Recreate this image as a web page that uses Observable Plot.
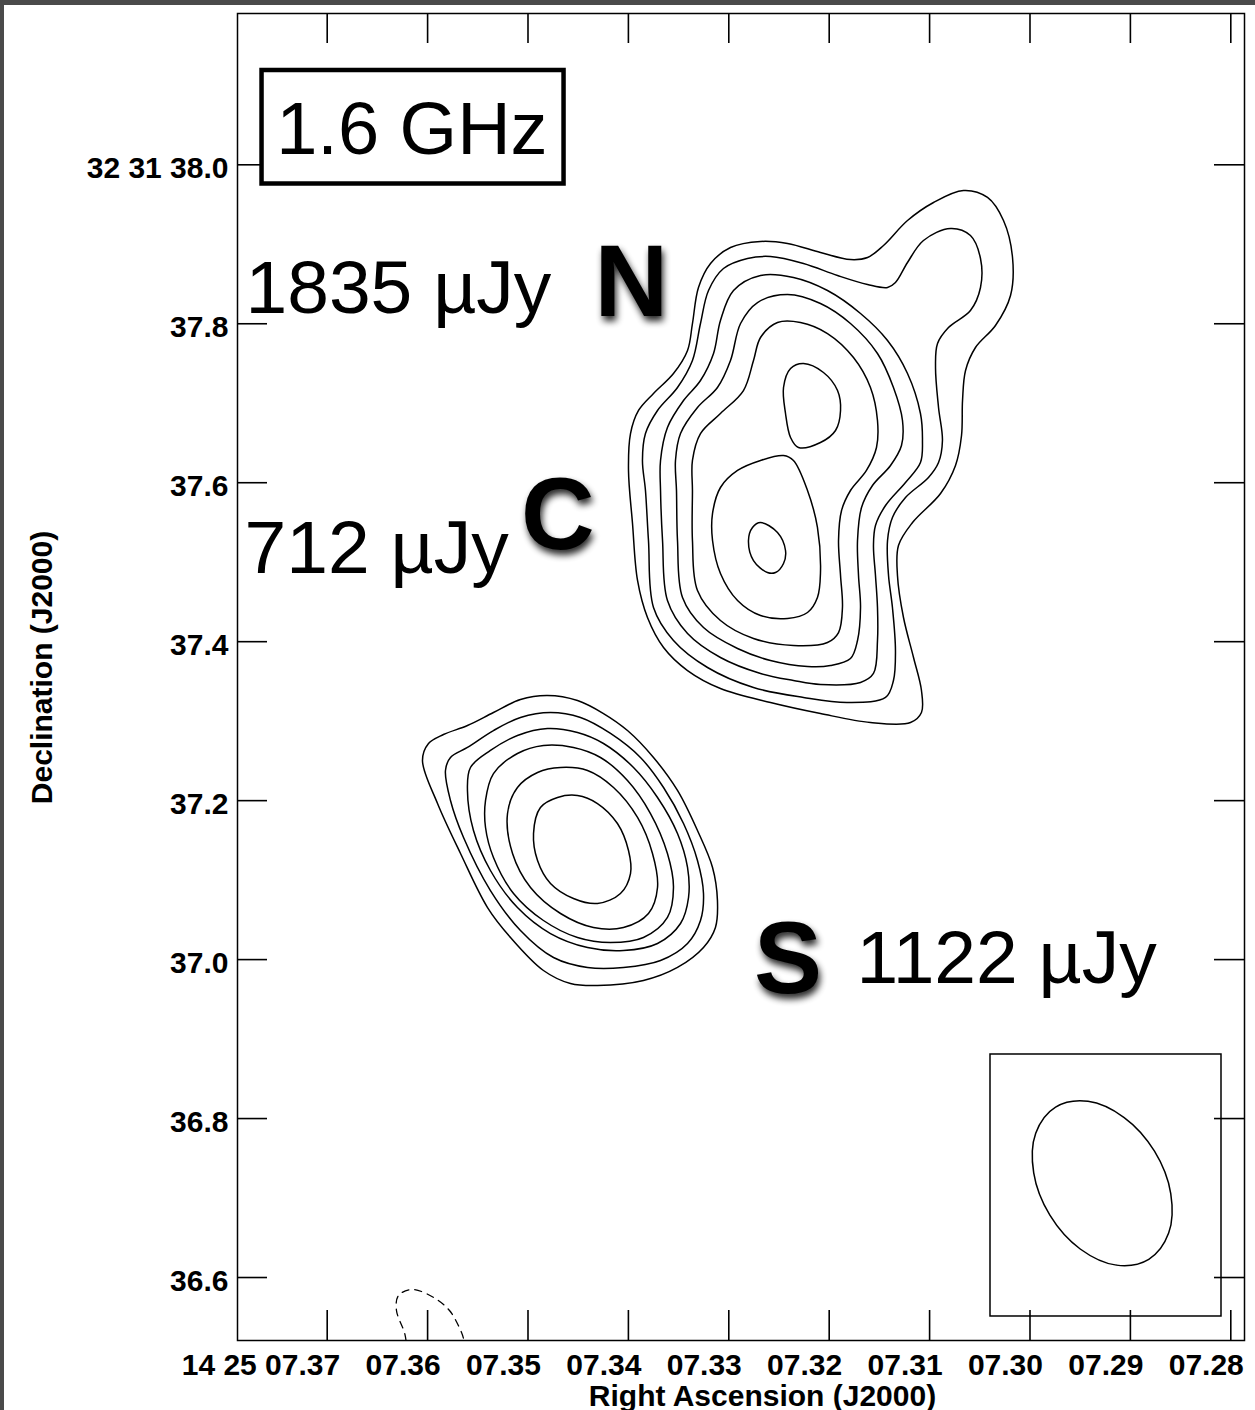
<!DOCTYPE html>
<html>
<head>
<meta charset="utf-8">
<script src="https://cdn.jsdelivr.net/npm/d3@7"></script>
<script src="https://cdn.jsdelivr.net/npm/@observablehq/plot@0.6"></script>
<style>
  html, body { margin: 0; padding: 0; background: #fff; }
  #page { position: relative; width: 1255px; height: 1410px; overflow: hidden; background: #fff; }
  #page svg { position: absolute; left: 0; top: 0; }
  .edge { position: absolute; background: #4a4a4a; }
</style>
</head>
<body>
<div id="page"></div>
<script>
// ---- Axis ticks (RA in seconds of time past 14h25m, Dec in arcsec past +32°31') ----
const xTicks = [7.37, 7.36, 7.35, 7.34, 7.33, 7.32, 7.31, 7.30, 7.29, 7.28];
const xTickLabels = ["14 25 07.37", "07.36", "07.35", "07.34", "07.33", "07.32", "07.31", "07.30", "07.29", "07.28"];
const yTicks = [38.0, 37.8, 37.6, 37.4, 37.2, 37.0, 36.8, 36.6];
const yTickLabels = ["32 31 38.0", "37.8", "37.6", "37.4", "37.2", "37.0", "36.8", "36.6"];

// ---- Text ----
const bandLabel = "1.6 GHz";
const fluxLabels = ["1835 µJy", "712 µJy", "1122 µJy"];
const componentNames = ["N", "C", "S"];
const xTitle = "Right Ascension (J2000)";
const yTitle = "Declination (J2000)";

// ---- Contours: [RA s, Dec arcsec] vertices ----
// northern complex (N + C), outermost to innermost
const northLevel1 = [[7.30662,37.9677],[7.30423,37.9589],[7.30264,37.9299],[7.30174,37.8834],[7.30194,37.8356],[7.30344,37.7978],[7.30543,37.7701],[7.30642,37.7412],[7.30672,37.7034],[7.30682,37.6594],[7.30742,37.6217],[7.30891,37.5864],[7.31170,37.5499],[7.31310,37.5210],[7.31320,37.4833],[7.31260,37.4304],[7.31160,37.3801],[7.31081,37.3386],[7.31081,37.3109],[7.31190,37.2983],[7.31589,37.2983],[7.32087,37.3096],[7.32585,37.3235],[7.33083,37.3411],[7.33411,37.3637],[7.33650,37.3927],[7.33810,37.4304],[7.33909,37.4770],[7.33959,37.5487],[7.33999,37.6154],[7.33979,37.6619],[7.33899,37.6909],[7.33750,37.7123],[7.33551,37.7374],[7.33411,37.7664],[7.33362,37.8003],[7.33302,37.8456],[7.33182,37.8758],[7.32983,37.8959],[7.32684,37.9035],[7.32415,37.9010],[7.32087,37.8897],[7.31788,37.8808],[7.31618,37.8834],[7.31459,37.8985],[7.31220,37.9299],[7.30961,37.9526]];
const northLevel2 = [[7.30792,37.9199],[7.30593,37.9110],[7.30493,37.8821],[7.30493,37.8456],[7.30593,37.8167],[7.30812,37.7953],[7.30921,37.7752],[7.30941,37.7450],[7.30911,37.6946],[7.30872,37.6531],[7.30911,37.6254],[7.31011,37.6066],[7.31240,37.5814],[7.31370,37.5562],[7.31419,37.5273],[7.31409,37.4833],[7.31370,37.4430],[7.31340,37.3889],[7.31360,37.3512],[7.31439,37.3298],[7.31818,37.3235],[7.32256,37.3298],[7.32754,37.3423],[7.33212,37.3675],[7.33551,37.4015],[7.33750,37.4430],[7.33800,37.5273],[7.33830,37.5902],[7.33860,37.6280],[7.33830,37.6619],[7.33710,37.6909],[7.33511,37.7198],[7.33362,37.7538],[7.33282,37.8003],[7.33202,37.8418],[7.33053,37.8695],[7.32814,37.8821],[7.32585,37.8846],[7.32256,37.8758],[7.31917,37.8607],[7.31618,37.8494],[7.31419,37.8456],[7.31340,37.8519],[7.31220,37.8771],[7.31061,37.9048]];
const northLevel3 = [[7.32684,37.8607],[7.32356,37.8582],[7.32017,37.8418],[7.31688,37.8129],[7.31419,37.7789],[7.31220,37.7374],[7.31091,37.6871],[7.31071,37.6531],[7.31091,37.6254],[7.31240,37.6003],[7.31439,37.5713],[7.31539,37.5462],[7.31559,37.5210],[7.31539,37.4833],[7.31519,37.4430],[7.31519,37.4015],[7.31559,37.3600],[7.31688,37.3487],[7.32087,37.3461],[7.32356,37.3512],[7.32684,37.3600],[7.33083,37.3801],[7.33411,37.4103],[7.33611,37.4518],[7.33660,37.5273],[7.33680,37.5902],[7.33680,37.6280],[7.33611,37.6695],[7.33451,37.7034],[7.33282,37.7286],[7.33152,37.7626],[7.33083,37.8041],[7.32953,37.8418]];
const northLevel4 = [[7.32415,37.8368],[7.32087,37.8255],[7.31788,37.8003],[7.31519,37.7626],[7.31360,37.7198],[7.31270,37.6783],[7.31280,37.6468],[7.31389,37.6217],[7.31569,37.5965],[7.31678,37.5688],[7.31718,37.5273],[7.31708,37.4833],[7.31688,37.4430],[7.31718,37.4015],[7.31788,37.3788],[7.31987,37.3700],[7.32216,37.3688],[7.32585,37.3763],[7.32913,37.3914],[7.33252,37.4178],[7.33461,37.4556],[7.33511,37.5273],[7.33521,37.5902],[7.33531,37.6280],[7.33481,37.6619],[7.33312,37.6946],[7.33113,37.7198],[7.32983,37.7538],[7.32883,37.8003],[7.32714,37.8267]];
const northLevel5 = [[7.32515,37.8016],[7.32286,37.8016],[7.32017,37.7877],[7.31758,37.7575],[7.31589,37.7198],[7.31519,37.6783],[7.31529,37.6443],[7.31629,37.6154],[7.31788,37.5902],[7.31877,37.5650],[7.31907,37.5273],[7.31887,37.4833],[7.31868,37.4430],[7.31907,37.4115],[7.32017,37.3990],[7.32356,37.3952],[7.32754,37.4040],[7.33083,37.4266],[7.33312,37.4644],[7.33362,37.5273],[7.33362,37.5902],[7.33362,37.6280],[7.33282,37.6619],[7.33083,37.6871],[7.32854,37.7160],[7.32754,37.7538],[7.32684,37.7827]];
const centralLevel6 = [[7.32455,37.6342],[7.32356,37.6280],[7.32216,37.5902],[7.32117,37.5437],[7.32087,37.4858],[7.32117,37.4556],[7.32216,37.4367],[7.32415,37.4292],[7.32684,37.4329],[7.32913,37.4518],[7.33083,37.4858],[7.33162,37.5273],[7.33162,37.5613],[7.33083,37.5940],[7.32913,37.6154],[7.32684,37.6280]];
const northLevel6 = [[7.32256,37.7500],[7.32057,37.7387],[7.31917,37.7160],[7.31887,37.6909],[7.31937,37.6657],[7.32087,37.6506],[7.32306,37.6443],[7.32385,37.6569],[7.32435,37.6871],[7.32455,37.7198],[7.32385,37.7437]];
const centralLevel7 = [[7.32684,37.5499],[7.32515,37.5374],[7.32435,37.5147],[7.32455,37.4984],[7.32535,37.4870],[7.32615,37.4870],[7.32754,37.5021],[7.32804,37.5273],[7.32764,37.5437]];

// southern component S, outermost to innermost
const southLevel1 = [[7.36051,37.2505],[7.35991,37.2719],[7.35842,37.2832],[7.35603,37.2945],[7.35344,37.3109],[7.35075,37.3273],[7.34806,37.3323],[7.34507,37.3260],[7.34248,37.3096],[7.34009,37.2882],[7.33750,37.2543],[7.33511,37.2128],[7.33312,37.1624],[7.33162,37.1159],[7.33113,37.0744],[7.33133,37.0404],[7.33252,37.0152],[7.33511,36.9901],[7.33850,36.9737],[7.34308,36.9674],[7.34577,36.9699],[7.34846,36.9863],[7.35174,37.0278],[7.35403,37.0655],[7.35672,37.1335],[7.35901,37.1964]];
const southLevel2 = [[7.35772,37.2002],[7.35822,37.2379],[7.35772,37.2543],[7.35603,37.2669],[7.35344,37.2882],[7.35075,37.3046],[7.34776,37.3109],[7.34477,37.3046],[7.34178,37.2845],[7.33880,37.2543],[7.33650,37.2165],[7.33451,37.1712],[7.33312,37.1247],[7.33252,37.0832],[7.33282,37.0492],[7.33411,37.0203],[7.33680,36.9989],[7.34049,36.9901],[7.34407,36.9901],[7.34746,37.0026],[7.35075,37.0366],[7.35374,37.0869],[7.35642,37.1536]];
const southLevel3 = [[7.35603,37.2128],[7.35573,37.2417],[7.35374,37.2631],[7.35105,37.2820],[7.34806,37.2908],[7.34507,37.2857],[7.34248,37.2719],[7.33949,37.2417],[7.33710,37.2040],[7.33511,37.1587],[7.33411,37.1159],[7.33401,37.0781],[7.33481,37.0454],[7.33710,37.0203],[7.34049,37.0114],[7.34407,37.0152],[7.34776,37.0328],[7.35105,37.0655],[7.35374,37.1121],[7.35543,37.1624]];
const southLevel4 = [[7.35423,37.2002],[7.35344,37.2341],[7.35105,37.2593],[7.34846,37.2694],[7.34547,37.2669],[7.34278,37.2543],[7.34009,37.2253],[7.33780,37.1838],[7.33611,37.1335],[7.33551,37.0907],[7.33611,37.0530],[7.33850,37.0278],[7.34178,37.0215],[7.34507,37.0278],[7.34846,37.0492],[7.35144,37.0832],[7.35344,37.1285],[7.35423,37.1662]];
const southLevel5 = [[7.35204,37.1838],[7.35105,37.2165],[7.34905,37.2354],[7.34676,37.2417],[7.34407,37.2379],[7.34148,37.2165],[7.33909,37.1788],[7.33760,37.1335],[7.33710,37.0907],[7.33800,37.0580],[7.34049,37.0404],[7.34348,37.0404],[7.34676,37.0580],[7.34975,37.0907],[7.35154,37.1335]];
const southLevel6 = [[7.34945,37.1587],[7.34876,37.1914],[7.34706,37.2040],[7.34507,37.2065],[7.34308,37.1964],[7.34109,37.1712],[7.33999,37.1373],[7.33979,37.1083],[7.34079,37.0832],[7.34308,37.0706],[7.34547,37.0769],[7.34776,37.0958],[7.34905,37.1247]];

// negative (dashed) contour, cut by the lower edge of the map
const negativeLevel = [[7.36215,36.5208],[7.36230,36.5308],[7.36310,36.5585],[7.36290,36.5774],[7.36150,36.5849],[7.35941,36.5749],[7.35782,36.5585],[7.35662,36.5308],[7.35637,36.5208]];

// restoring beam outline
const beamOutline = [[7.28817,36.6229],[7.29139,36.6156],[7.29500,36.6359],[7.29802,36.6784],[7.29963,36.7316],[7.29943,36.7815],[7.29745,36.8144],[7.29422,36.8217],[7.29062,36.8013],[7.28760,36.7589],[7.28598,36.7057],[7.28619,36.6559]];

// ---- Build line table ----
const contourSets = [
  ["n1", northLevel1], ["n2", northLevel2], ["n3", northLevel3], ["n4", northLevel4],
  ["n5", northLevel5], ["c6", centralLevel6], ["n6", northLevel6], ["c7", centralLevel7],
  ["s1", southLevel1], ["s2", southLevel2], ["s3", southLevel3], ["s4", southLevel4],
  ["s5", southLevel5], ["s6", southLevel6]
];
const contourRows = contourSets.flatMap(([id, pts]) => pts.map(([ra, dec]) => ({id, ra, dec})));
const toRows = pts => pts.map(([ra, dec]) => ({ra, dec}));

const FONT = "'Liberation Sans', Arial, Helvetica, sans-serif";
const W = 1255, H = 1410;
const M = {top: 13, right: 11, bottom: 70, left: 237};
const plotW = W - M.left - M.right;
const plotH = H - M.top - M.bottom;
const TICK = 30;
const ink = "black";

const chart = Plot.plot({
  width: W,
  height: H,
  marginTop: M.top,
  marginRight: M.right,
  marginBottom: M.bottom,
  marginLeft: M.left,
  x: {domain: [7.378934, 7.278635], axis: null},
  y: {domain: [36.520758, 38.190363], axis: null},
  style: {background: "white", fontFamily: FONT, color: ink},
  marks: [
    // inward ticks on all four sides
    Plot.ruleX(xTicks, {x: d => d, insetBottom: plotH - TICK, stroke: ink, strokeWidth: 1.6}),
    Plot.ruleX(xTicks, {x: d => d, insetTop: plotH - TICK, stroke: ink, strokeWidth: 1.6}),
    Plot.ruleY(yTicks, {y: d => d, insetRight: plotW - TICK, stroke: ink, strokeWidth: 1.6}),
    Plot.ruleY(yTicks, {y: d => d, insetLeft: plotW - TICK, stroke: ink, strokeWidth: 1.6}),

    // tick labels
    Plot.text(xTicks, {
      x: d => d, text: (d, i) => xTickLabels[i], frameAnchor: "bottom",
      textAnchor: "end", lineAnchor: "bottom", dx: 13, dy: 34,
      fontSize: 30, fontWeight: "bold", fontFamily: FONT, fill: ink
    }),
    Plot.text(yTicks, {
      y: d => d, text: (d, i) => yTickLabels[i], frameAnchor: "left",
      textAnchor: "end", lineAnchor: "bottom", dx: -9, dy: 13.4,
      fontSize: 30, fontWeight: "bold", fontFamily: FONT, fill: ink
    }),

    // axis titles
    Plot.text([xTitle], {
      text: d => d, frameAnchor: "bottom", textAnchor: "middle", lineAnchor: "bottom", dx: 21.5, dy: 65,
      fontSize: 30, fontWeight: "bold", fontFamily: FONT, fill: ink
    }),
    Plot.text([yTitle], {
      text: d => d, frameAnchor: "left", textAnchor: "middle", rotate: -90, lineAnchor: "middle", dx: -195, dy: -9.5,
      fontSize: 30, fontWeight: "bold", fontFamily: FONT, fill: ink
    }),

    // contour map
    Plot.line(contourRows, {
      x: "ra", y: "dec", z: "id", curve: "catmull-rom-closed",
      stroke: ink, strokeWidth: 1.5, fill: "none"
    }),
    Plot.line(toRows(negativeLevel), {
      x: "ra", y: "dec", curve: "catmull-rom",
      stroke: ink, strokeWidth: 1.3, strokeDasharray: "7,6", clip: true
    }),

    // beam inset
    Plot.rect([0], {x1: 7.303934, x2: 7.280926, y1: 36.88060, y2: 36.55096, fill: "none", stroke: ink, strokeWidth: 1.5}),
    Plot.line(toRows(beamOutline), {
      x: "ra", y: "dec", curve: "catmull-rom-closed", stroke: ink, strokeWidth: 1.5
    }),

    // observing band
    Plot.rect([0], {x1: 7.37649, x2: 7.34641, y1: 38.11865, y2: 37.97584, fill: "white", stroke: ink, strokeWidth: 4.5}),
    Plot.text([bandLabel], {
      x: 7.37508, y: 38.01296, text: d => d, textAnchor: "start", lineAnchor: "bottom",
      fontSize: 74, fontFamily: FONT, fill: ink
    }),

    // flux densities
    Plot.text(fluxLabels, {
      x: [7.37814, 7.37824, 7.31728], y: [37.81416, 37.48704, 36.96993],
      text: d => d, textAnchor: "start", lineAnchor: "bottom",
      fontSize: 75, fontFamily: FONT, fill: ink
    }),

    // component names
    Plot.text(componentNames, {
      x: [7.34338, 7.35070, 7.32749], y: [37.81039, 37.51598, 36.95860],
      text: d => d, textAnchor: "start", lineAnchor: "bottom",
      fontSize: 102, fontWeight: "bold", fontFamily: FONT, fill: ink
    }),

    Plot.frame({stroke: ink, strokeWidth: 1.5})
  ]
});

// soft drop shadow behind the component names
const svg = d3.select(chart);
const defs = svg.insert("defs", ":first-child");
const shadow = defs.append("filter").attr("id", "letter-shadow")
  .attr("x", "-40%").attr("y", "-40%").attr("width", "180%").attr("height", "180%");
shadow.append("feGaussianBlur").attr("in", "SourceAlpha").attr("stdDeviation", 3.5).attr("result", "blur");
shadow.append("feOffset").attr("in", "blur").attr("dx", 2).attr("dy", 5).attr("result", "off");
shadow.append("feComponentTransfer").attr("in", "off").attr("result", "shade")
  .append("feFuncA").attr("type", "linear").attr("slope", 0.85);
const merge = shadow.append("feMerge");
merge.append("feMergeNode").attr("in", "shade");
merge.append("feMergeNode").attr("in", "SourceGraphic");
svg.selectAll("text")
  .filter(function () { return componentNames.includes(this.textContent); })
  .attr("filter", "url(#letter-shadow)");

const page = document.getElementById("page");
page.append(chart);
const edgeTop = document.createElement("div");
edgeTop.className = "edge";
Object.assign(edgeTop.style, {left: "0px", top: "0px", width: W + "px", height: "5px"});
const edgeLeft = document.createElement("div");
edgeLeft.className = "edge";
Object.assign(edgeLeft.style, {left: "0px", top: "0px", width: "4px", height: H + "px"});
page.append(edgeTop, edgeLeft);
</script>
</body>
</html>
